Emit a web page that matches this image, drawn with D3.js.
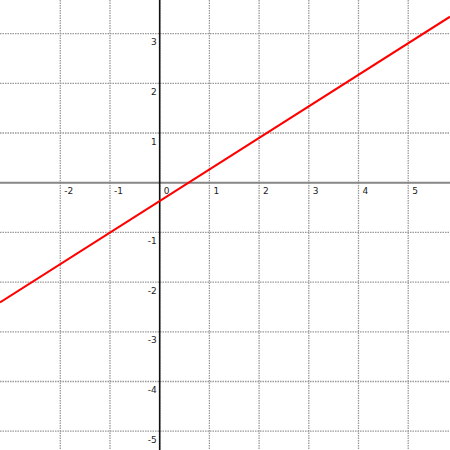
<!DOCTYPE html>
<html>
<head>
<meta charset="utf-8">
<script src="https://cdn.jsdelivr.net/npm/d3@7"></script>
<style>
  html, body { margin: 0; padding: 0; background: #fff; }
  svg { display: block; }
</style>
</head>
<body>
<svg id="chart" width="450" height="450"></svg>
<script>
// Data
const xTicks = [-2, -1, 0, 1, 2, 3, 4, 5];
const yTicks = [3, 2, 1, 0, -1, -2, -3, -4, -5];
const xTickLabels = ["-2", "-1", "0", "1", "2", "3", "4", "5"];
const xTickLabelValues = [-2, -1, 0, 1, 2, 3, 4, 5];
const yTickLabels = ["3", "2", "1", "-1", "-2", "-3", "-4", "-5"];
const yTickLabelValues = [3, 2, 1, -1, -2, -3, -4, -5];
const lineX = [-3.213, 5.841];
const lineY = [-2.41, 3.34];

const W = 450, H = 450;
const svg = d3.select("#chart");

const x = d3.scaleLinear().domain([-3.213, 5.841]).range([0, W]);
const y = d3.scaleLinear().domain([-5.378, 3.676]).range([H, 0]);

// grid
svg.append("g").selectAll("line").data(xTicks).join("line")
  .attr("x1", d => x(d)).attr("x2", d => x(d))
  .attr("y1", 0).attr("y2", H)
  .attr("stroke", "#999").attr("stroke-width", 1.3)
  .attr("stroke-dasharray", "1.5,1");
svg.append("g").selectAll("line").data(yTicks).join("line")
  .attr("x1", 0).attr("x2", W)
  .attr("y1", d => y(d)).attr("y2", d => y(d))
  .attr("stroke", "#999").attr("stroke-width", 1.3)
  .attr("stroke-dasharray", "1.5,1");

// axes
svg.append("line")
  .attr("x1", 0).attr("x2", W)
  .attr("y1", y(0)).attr("y2", y(0))
  .attr("stroke", "#888").attr("stroke-width", 2);
svg.append("line")
  .attr("x1", x(0)).attr("x2", x(0))
  .attr("y1", 0).attr("y2", H)
  .attr("stroke", "#111").attr("stroke-width", 1.6);

// tick labels
svg.append("g").selectAll("text").data(xTickLabelValues).join("text")
  .attr("x", d => x(d) + 4)
  .attr("y", y(0) + 11.5)
  .attr("font-family", "DejaVu Sans")
  .attr("font-size", 9)
  .attr("fill", "#222")
  .text((d, i) => xTickLabels[i]);
svg.append("g").selectAll("text").data(yTickLabelValues).join("text")
  .attr("x", x(0) - 3)
  .attr("y", d => y(d) + 11.5)
  .attr("text-anchor", "end")
  .attr("font-family", "DejaVu Sans")
  .attr("font-size", 9)
  .attr("fill", "#222")
  .text((d, i) => yTickLabels[i]);

// line
const pts = lineX.map((v, i) => [v, lineY[i]]);
svg.append("path")
  .datum(pts)
  .attr("d", d3.line().x(d => x(d[0])).y(d => y(d[1])))
  .attr("fill", "none")
  .attr("stroke", "#f00")
  .attr("stroke-width", 2);
</script>
</body>
</html>
